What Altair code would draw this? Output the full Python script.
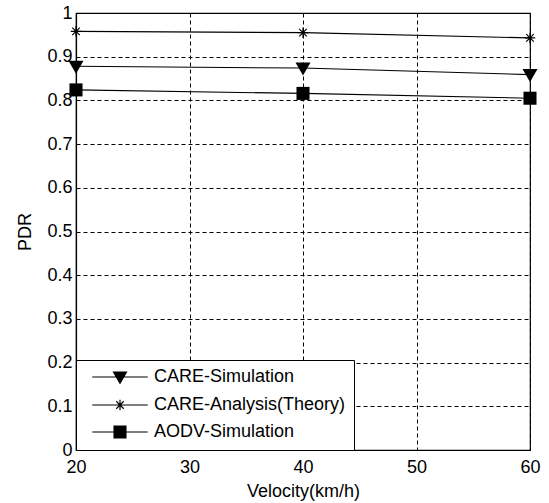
import altair as alt
import pandas as pd

velocity = [20, 40, 60]
care_sim = [0.878, 0.874, 0.859]
care_theory = [0.958, 0.955, 0.943]
aodv_sim = [0.824, 0.816, 0.805]
series_names = ["CARE-Simulation", "CARE-Analysis(Theory)", "AODV-Simulation"]
x_ticks = [20, 30, 40, 50, 60]
y_ticks = [0, 0.1, 0.2, 0.3, 0.4, 0.5, 0.6, 0.7, 0.8, 0.9, 1]

rows = []
for name, vals in zip(series_names, [care_sim, care_theory, aodv_sim]):
    for v, p in zip(velocity, vals):
        rows.append({"series": name, "velocity": v, "pdr": p})
df = pd.DataFrame(rows)

# marker paths (unit box -1..1), all drawn by fill only
tri = "M-1,-0.75L1,-0.75L0,1Z"
star = ("M-0.7,-0.08L0.7,-0.08L0.7,0.08L-0.7,0.08Z"
        "M-0.08,-0.7L0.08,-0.7L0.08,0.7L-0.08,0.7Z"
        "M-0.443,-0.557L0.557,0.443L0.443,0.557L-0.557,-0.443Z"
        "M-0.443,0.557L-0.557,0.443L0.443,-0.557L0.557,-0.443Z")
sq = "M-0.87,-0.87L0.87,-0.87L0.87,0.87L-0.87,0.87Z"
seg = "M-3.7,-0.07L3.7,-0.07L3.7,0.07L-3.7,0.07Z"
marker_paths = [tri, star, sq]
legend_paths = [seg + p for p in marker_paths]

FONT = "Liberation Sans"

x_enc = alt.X("velocity:Q", scale=alt.Scale(domain=[20, 60], nice=False),
              axis=alt.Axis(values=x_ticks, title="Velocity(km/h)", format="d"))
y_enc = alt.Y("pdr:Q", scale=alt.Scale(domain=[0, 1], nice=False),
              axis=alt.Axis(values=y_ticks, title="PDR", format="~g"))

base = alt.Chart(df)

lines = base.mark_line(color="black", strokeWidth=1.1).encode(
    x=x_enc, y=y_enc, detail="series:N"
)

points = base.mark_point(filled=True, color="black", opacity=1, size=225,
                         strokeWidth=0.4).encode(
    x=x_enc, y=y_enc,
    shape=alt.Shape("series:N",
                    scale=alt.Scale(domain=series_names, range=marker_paths),
                    legend=None),
)

# legend-only layer: no rows drawn, explicit domain keeps all entries
legend_layer = base.transform_filter("datum.pdr < 0").mark_point(
    filled=True, color="black", opacity=1, size=225
).encode(
    x=x_enc, y=y_enc,
    shape=alt.Shape("series:N",
                    scale=alt.Scale(domain=series_names, range=legend_paths),
                    legend=alt.Legend(
                        title=None, orient="bottom-left", offset=0,
                        padding=8, strokeColor="black", fillColor="white",
                        cornerRadius=0, symbolSize=225, symbolOffset=27,
                        symbolFillColor="black", symbolOpacity=1,
                        labelFont=FONT, labelFontSize=18, labelColor="black",
                        labelLimit=400, labelOffset=25, rowPadding=8,
                    )),
)

chart = alt.layer(lines, points, legend_layer).resolve_scale(
    shape="independent"
).properties(
    width=454, height=437,
    autosize=alt.AutoSizeParams(type="none"),
    padding={"left": 76, "top": 13, "right": 19, "bottom": 53},
    background="white",
).configure_view(
    stroke="black", strokeWidth=1.2
).configure_axis(
    domainColor="black", domainWidth=1.2,
    ticks=False, labelFlush=False,
    grid=True, gridColor="black", gridOpacity=1, gridDash=[4, 3], gridWidth=1,
    labelFont=FONT, labelFontSize=18, labelColor="black",
    titleFont=FONT, titleFontSize=18, titleColor="black", titleFontWeight="normal",
).configure_axisY(
    titlePadding=12, labelPadding=4
).configure_axisX(
    titlePadding=6, labelPadding=8
)

chart.save("out.html", embed_options={"renderer": "svg", "actions": False})
